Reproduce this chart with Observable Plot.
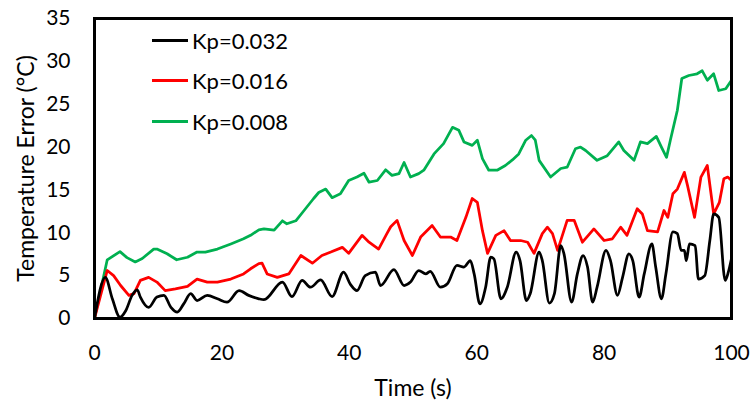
<!DOCTYPE html>
<html><head><meta charset="utf-8">
<script src="https://cdn.jsdelivr.net/npm/d3@7"></script>
<script src="https://cdn.jsdelivr.net/npm/@observablehq/plot@0.6"></script>
<style>
body{margin:0;background:#fff;}
#wrap{position:relative;width:751px;height:401px;font-family:Lato, "Open Sans", sans-serif;}
#legend{position:absolute;left:152px;top:20px;font-size:22px;color:#000;}
.item{display:flex;align-items:center;height:40.5px;}
.sw{width:36px;height:3px;margin-right:4px;}
</style>
</head><body>
<div id="wrap"><div id="legend"></div></div>
<script>
const seriesNames = ["Kp=0.032", "Kp=0.016", "Kp=0.008"];
const seriesColors = ["#000000", "#ff0000", "#00b050"];
const xTicks = [0, 20, 40, 60, 80, 100];
const yTicks = [0, 5, 10, 15, 20, 25, 30, 35];
const xTitle = "Time (s)";
const yTitle = "Temperature Error (°C)";

const timeK032 = [0,1.7,2.8,4.0,4.9,5.9,6.7,7.2,8.5,9.8,10.9,12.0,13.0,14.0,15.1,16.1,17.7,19.3,20.8,22.7,24.2,25.8,26.6,29.5,31.0,32.6,33.9,35.5,37.3,39.1,40.2,41.2,42.5,44.1,44.9,47.0,48.6,49.6,50.9,52.0,52.7,54.3,55.4,56.9,58.0,59.0,59.6,60.5,61.4,62.2,62.7,63.8,64.8,66.2,66.8,67.8,68.4,69.8,70.3,71.4,72.2,73.2,73.7,74.9,75.8,76.7,77.4,78.2,78.9,80.3,81.0,82.1,82.9,83.9,84.5,85.5,86.3,87.5,88.1,89.0,89.7,90.8,91.5,92.1,92.6,92.9,93.4,94.3,94.8,95.8,96.6,97.2,98.0,99.0,99.5,100];
const errK032  = [0,4.8,2.3,0.15,0.9,2.7,3.35,2.5,1.3,2.5,2.7,1.3,0.75,1.7,2.9,2.1,2.7,2.3,1.9,3.25,2.7,2.3,2.2,4.25,2.55,4.45,3.65,4.5,2.55,5.4,3.95,3.25,5.0,5.4,3.85,5.7,3.85,4.25,5.6,5.2,5.5,3.65,4.05,6.2,6.0,6.75,5.2,1.7,3.65,7.15,6.95,2.3,3.65,7.75,6.75,2.1,2.9,7.75,6.75,1.8,2.9,8.5,7.55,1.9,5.2,7.35,6.0,1.9,3.65,7.95,6.75,2.7,4.8,7.55,6.75,2.5,5.2,8.7,6.0,2.3,5.2,10.1,9.9,7.95,7.95,6.75,8.7,8.5,4.6,5.0,9.1,12.2,11.8,4.45,5.4,7.0];

const timeK016 = [0,2.0,3.0,4.1,5.4,6.2,7.2,8.5,9.8,11.1,12.7,14.6,16.1,17.7,19.3,21.4,23.4,24.5,25.8,26.3,27.1,28.7,30.5,32.4,34.2,35.7,37.1,38.9,39.9,42.0,43.1,44.6,45.9,46.5,47.5,48.6,49.9,51.2,53.0,54.3,55.9,56.9,58.3,59.3,60.1,60.9,61.7,63.0,64.3,65.3,66.9,68.0,69.0,70.3,71.1,71.9,72.7,74.2,75.3,76.6,78.4,80.0,81.3,82.6,83.6,85.2,86.0,86.8,88.4,89.4,90.0,90.8,91.5,92.6,93.1,94.2,95.2,96.2,97.2,98.1,98.8,99.4,100];
const errK016  = [0,5.6,5.0,3.85,2.7,2.9,4.45,4.8,4.25,3.25,3.45,3.75,4.6,4.25,4.25,4.6,5.2,5.8,6.4,6.45,5.2,4.8,5.2,7.35,6.45,7.35,7.75,8.3,7.6,9.7,8.9,8.1,9.9,10.7,11.45,9.1,7.35,9.5,10.85,9.5,9.5,9.1,11.8,14.0,13.55,10.25,7.6,9.7,10.25,9.1,9.1,8.9,7.6,9.9,10.65,9.9,7.95,11.45,11.45,8.9,10.45,9.1,9.3,10.65,9.7,12.8,12.2,10.25,10.1,12.6,11.8,14.55,15.1,17.05,15.5,11.8,16.5,17.85,12.2,13.55,16.3,16.5,16.1];

const timeK008 = [0,2.0,4.0,5.1,6.4,7.5,9.3,9.8,11.4,12.9,14.6,16.1,17.4,19.3,21.4,23.4,24.5,25.8,26.6,28.2,29.5,30.2,31.6,32.9,34.4,35.2,36.3,37.3,38.6,39.9,41.2,42.3,43.1,44.4,45.7,46.7,47.8,48.6,49.6,50.9,51.7,53.3,54.8,56.2,57.2,58.0,59.3,60.1,60.9,61.9,63.2,64.5,65.6,66.6,67.7,68.6,69.2,69.8,71.6,73.2,74.2,75.5,76.3,77.1,78.9,80.5,82.3,83.1,84.7,85.7,86.8,88.2,89.0,89.8,90.4,91.5,92.2,93.3,94.6,95.4,96.2,97.2,98.0,99.1,100];
const errK008  = [0,6.85,7.8,7.1,6.6,7.0,8.1,8.1,7.55,6.85,7.15,7.75,7.75,8.1,8.7,9.3,9.7,10.35,10.45,10.3,11.4,11.05,11.4,12.6,14.0,14.7,15.1,14.1,14.55,16.1,16.5,16.95,15.9,16.1,17.35,16.7,16.9,18.2,16.5,16.9,17.3,19.2,20.4,22.3,21.95,20.6,20.2,20.8,18.65,17.3,17.3,17.85,18.5,19.2,20.8,21.35,20.8,18.45,16.5,17.5,17.65,19.8,20.0,19.6,18.45,19.0,20.6,19.6,18.45,20.6,20.4,21.25,20.0,18.8,20.8,24.3,28.0,28.35,28.55,28.9,27.8,28.55,26.6,26.8,27.8];

const toRows = (ts, vs) => ts.map((t, i) => ({t, v: vs[i]}));
const rows = [toRows(timeK032, errK032), toRows(timeK016, errK016), toRows(timeK008, errK008)];

const font = "Lato, 'Open Sans', sans-serif";
const chart = Plot.plot({
  width: 751, height: 401,
  marginLeft: 94, marginRight: 20, marginTop: 18, marginBottom: 83,
  style: {fontFamily: font, fontSize: "21px", color: "#000", background: "#fff"},
  x: {domain: [0, 100]},
  y: {domain: [0, 35]},
  marks: [
    Plot.axisX({ticks: xTicks, tickSize: 0, tickPadding: 27, fontSize: 21, label: null}),
    Plot.axisY({ticks: yTicks, tickSize: 0, tickPadding: 24, fontSize: 21, label: null}),
    Plot.text([xTitle], {text: d => d, frameAnchor: "bottom", dy: 70, lineAnchor: "middle", textAnchor: "middle", fontSize: 23, fill: "#000"}),
    Plot.text([yTitle], {text: d => d, frameAnchor: "left", dx: -68, rotate: -90, lineAnchor: "middle", textAnchor: "middle", fontSize: 23, fill: "#000"}),
    Plot.lineY(rows[2], {x: "t", y: "v", stroke: seriesColors[2], strokeWidth: 2.75}),
    Plot.lineY(rows[1], {x: "t", y: "v", stroke: seriesColors[1], strokeWidth: 2.75}),
    Plot.lineY(rows[0], {x: "t", y: "v", stroke: seriesColors[0], strokeWidth: 2.75, curve: "monotone-x"}),
    Plot.frame({stroke: "#000", strokeWidth: 3})
  ]
});
document.getElementById("wrap").prepend(chart);

const legend = document.getElementById("legend");
seriesNames.forEach((name, i) => {
  const item = document.createElement("div");
  item.className = "item";
  const sw = document.createElement("div");
  sw.className = "sw";
  sw.style.background = seriesColors[i];
  const label = document.createElement("span");
  label.textContent = name;
  item.append(sw, label);
  legend.append(item);
});
</script>
</body></html>
